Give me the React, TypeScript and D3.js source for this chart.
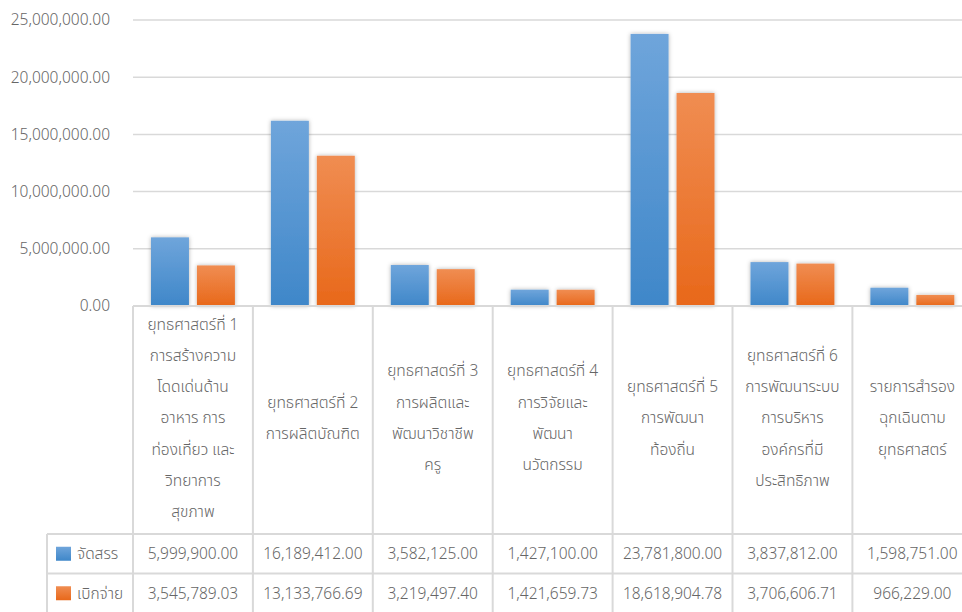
import React from "react";
import * as d3 from "d3";

// category labels, already wrapped like in the source table
const categories: string[][] = [
  ["ยุทธศาสตร์ที่ 1", "การสร้างความ", "โดดเด่นด้าน", "อาหาร การ", "ท่องเที่ยว และ", "วิทยาการ", "สุขภาพ"],
  ["ยุทธศาสตร์ที่ 2", "การผลิตบัณฑิต"],
  ["ยุทธศาสตร์ที่ 3", "การผลิตและ", "พัฒนาวิชาชีพ", "ครู"],
  ["ยุทธศาสตร์ที่ 4", "การวิจัยและ", "พัฒนา", "นวัตกรรม"],
  ["ยุทธศาสตร์ที่ 5", "การพัฒนา", "ท้องถิ่น"],
  ["ยุทธศาสตร์ที่ 6", "การพัฒนาระบบ", "การบริหาร", "องค์กรที่มี", "ประสิทธิภาพ"],
  ["รายการสำรอง", "ฉุกเฉินตาม", "ยุทธศาสตร์"],
];

const seriesNames = ["จัดสรร", "เบิกจ่าย"];
const allocated = [5999900, 16189412, 3582125, 1427100, 23781800, 3837812, 1598751];
const disbursed = [3545789.03, 13133766.69, 3219497.4, 1421659.73, 18618904.78, 3706606.71, 966229.0];
const yTicks = [0, 5000000, 10000000, 15000000, 20000000, 25000000];

const W = 962;
const H = 612;
const left = 133;
const band = 119.9;
const top = 20;
const zero = 306;
const tableTop = 534;
const rowH = 39.5;
const font = "Tahoma, 'Noto Sans Thai', 'Noto Sans', sans-serif";
const grey = "#666666";
const line = "#d9d9d9";

export default function App() {
  const idx = categories.map((_, i) => i);
  const x = d3.scaleBand<number>().domain(idx).range([left, left + band * idx.length]);
  const xs = d3.scaleBand<number>().domain([0, 1]).range([18, band - 18]).paddingInner(8 / 46);
  const y = d3.scaleLinear().domain([0, 25000000]).range([zero, top]);
  const fmt = d3.format(",.2f");
  const series = [allocated, disbursed];
  const grads = ["gBlue", "gOrange"];

  return (
    <div style={{ position: "fixed", left: 0, top: 0 }}>
      <svg width={W} height={H} style={{ display: "block", background: "#fff" }}>
        <defs>
          <linearGradient id="gBlue" x1="0" y1="0" x2="0" y2="1">
            <stop offset="0" stopColor="#6fa5db" />
            <stop offset="1" stopColor="#3f87c9" />
          </linearGradient>
          <linearGradient id="gOrange" x1="0" y1="0" x2="0" y2="1">
            <stop offset="0" stopColor="#f08d52" />
            <stop offset="1" stopColor="#e8681a" />
          </linearGradient>
          <filter id="shadow" x="-30%" y="-10%" width="160%" height="120%">
            <feDropShadow dx="0" dy="0" stdDeviation="2.2" floodColor="#000" floodOpacity="0.3" />
          </filter>
        </defs>

        {/* gridlines + y labels */}
        {yTicks.map((t) => (
          <g key={t}>
            <line x1={left} x2={W} y1={y(t)} y2={y(t)} stroke={line} strokeWidth={1.5} />
            <text x={110} y={y(t)} dy="0.35em" textAnchor="end" fontFamily={font} fontWeight={300} fontSize={15.5} fill={grey}>
              {fmt(t)}
            </text>
          </g>
        ))}

        {/* bars */}
        {series.map((vals, s) => (
          <g key={s} filter="url(#shadow)">
            {vals.map((v, i) => (
              <rect
                key={i}
                x={(x(i) ?? 0) + (xs(s) ?? 0)}
                y={y(v)}
                width={xs.bandwidth()}
                height={zero - y(v)}
                fill={`url(#${grads[s]})`}
              />
            ))}
          </g>
        ))}

        {/* table lines */}
        <g stroke={line} strokeWidth={2} fill="none">
          <line x1={left} x2={W} y1={zero} y2={zero} />
          <line x1={47} x2={W} y1={tableTop} y2={tableTop} />
          <line x1={47} x2={W} y1={tableTop + rowH} y2={tableTop + rowH} />
          <line x1={47} x2={47} y1={tableTop} y2={H} />
          {idx.map((i) => (
            <line key={i} x1={x(i)} x2={x(i)} y1={zero} y2={H} />
          ))}
        </g>

        {/* category labels */}
        {categories.map((lines, i) => {
          const cx = (x(i) ?? 0) + band / 2;
          const mid = (zero + tableTop) / 2 - 2;
          const lh = 31.3;
          const y0 = mid - ((lines.length - 1) * lh) / 2;
          return (
            <text key={i} textAnchor="middle" fontFamily={font} fontWeight={300} fontSize={15.5} fill={grey}>
              {lines.map((l, k) => (
                <tspan key={k} x={cx} y={y0 + k * lh} dy="0.35em">
                  {l}
                </tspan>
              ))}
            </text>
          );
        })}

        {/* table rows */}
        {series.map((vals, s) => {
          const cy = tableTop + rowH * s + rowH / 2;
          return (
            <g key={s}>
              <rect x={56} y={cy - 7} width={15} height={14} fill={`url(#${grads[s]})`} />
              <text x={77} y={cy} dy="0.35em" fontFamily={font} fontWeight={300} fontSize={15.5} fill={grey}>
                {seriesNames[s]}
              </text>
              {vals.map((v, i) => (
                <text
                  key={i}
                  x={(x(i) ?? 0) + band / 2}
                  y={cy}
                  dy="0.35em"
                  textAnchor="middle"
                  fontFamily={font}
                  fontWeight={300}
                  fontSize={15.5}
                  fill={grey}
                >
                  {fmt(v)}
                </text>
              ))}
            </g>
          );
        })}
      </svg>
    </div>
  );
}
